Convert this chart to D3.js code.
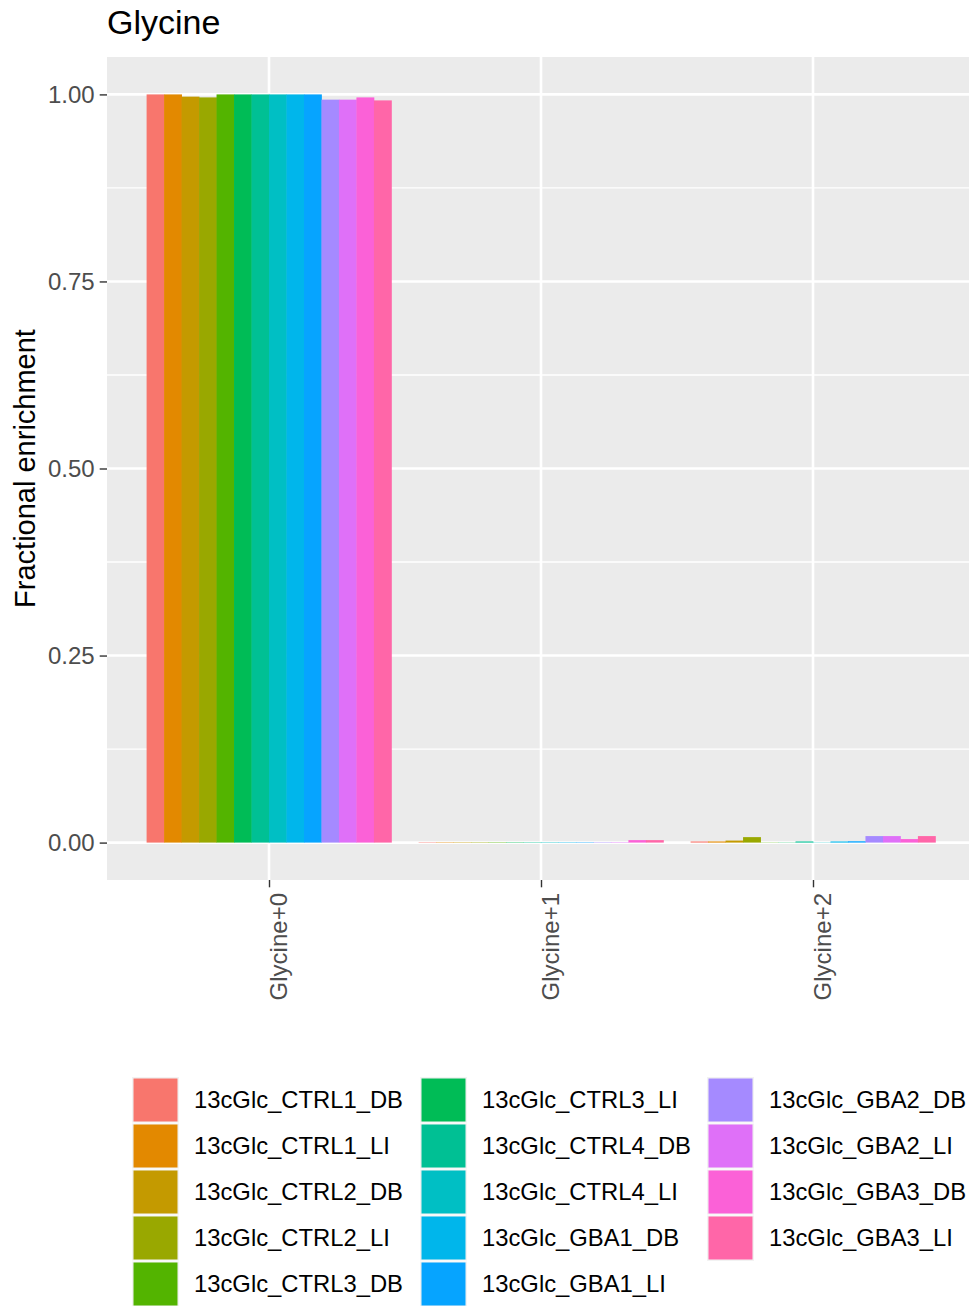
<!DOCTYPE html>
<html><head><meta charset="utf-8">
<script src="https://cdn.jsdelivr.net/npm/d3@7"></script>
<style>body{margin:0;background:#fff}svg{display:block;font-family:"Liberation Sans",Arial,sans-serif}</style>
</head><body><div id="chart"></div>
<script>
const categories = ["Glycine+0","Glycine+1","Glycine+2"];
const samples = ["13cGlc_CTRL1_DB","13cGlc_CTRL1_LI","13cGlc_CTRL2_DB","13cGlc_CTRL2_LI","13cGlc_CTRL3_DB","13cGlc_CTRL3_LI","13cGlc_CTRL4_DB","13cGlc_CTRL4_LI","13cGlc_GBA1_DB","13cGlc_GBA1_LI","13cGlc_GBA2_DB","13cGlc_GBA2_LI","13cGlc_GBA3_DB","13cGlc_GBA3_LI"];
const glycine0 = [1.000,1.000,0.997,0.996,1.000,1.000,1.000,1.000,1.000,1.000,0.993,0.993,0.996,0.992];
const glycine1 = [0.0005,0.0005,0.0005,0.0005,0.0005,0.0005,0.0005,0.0005,0.0005,0.0005,0.0005,0.0005,0.0033,0.0033];
const glycine2 = [0.0015,0.0015,0.0027,0.0073,0.0003,0.0003,0.0015,0.0003,0.0015,0.0018,0.0087,0.0087,0.0047,0.0087];
const yTicks = [0,0.25,0.5,0.75,1.0];
const yMinor = [0.125,0.375,0.625,0.875];
const seriesByCat = [glycine0, glycine1, glycine2];

(function(){
// ggplot2 hue palette (polar LUV)
function hclR(h,c,l){
  const WX=95.047,WY=100,WZ=108.883;
  const t=WX+15*WY+3*WZ, uN=4*WX/t, vN=9*WY/t;
  const hr=h*Math.PI/180, U=c*Math.cos(hr), V=c*Math.sin(hr);
  const Y=WY*(l>7.999592?Math.pow((l+16)/116,3):l/903.3);
  const u=U/(13*l)+uN, v=V/(13*l)+vN;
  const X=9*Y*u/(4*v), Z=-X/3-5*Y+3*Y/v;
  const g=x=>{x=x<=0.0031308?12.92*x:1.055*Math.pow(x,1/2.4)-0.055;return Math.round(255*Math.max(0,Math.min(1,x)));};
  const r=g((3.240479*X-1.53715*Y-0.498535*Z)/WY);
  const gg=g((-0.969256*X+1.875992*Y+0.041556*Z)/WY);
  const b=g((0.055648*X-0.204043*Y+1.057311*Z)/WY);
  return d3.rgb(r,gg,b).formatHex();
}
const n=samples.length;
const colors=d3.range(n).map(i=>hclR(15+i*360/n,100,65));

const W=969,H=1306;
const svg=d3.select("#chart").append("svg").attr("width",W).attr("height",H);
const P={l:107,r:969,t:57,b:880};
svg.append("rect").attr("x",P.l).attr("y",P.t).attr("width",P.r-P.l).attr("height",P.b-P.t).attr("fill","#EBEBEB");

const y=d3.scaleLinear().domain([-0.05,1.05]).range([P.b,P.t]);
const xc=d3.scaleLinear().domain([1,3]).range([269,813]);
const unit=xc(2)-xc(1);
const xb=d3.scaleBand().domain(samples).range([-0.45*unit,0.45*unit]).padding(0);

// grid
svg.selectAll(".ymin").data(yMinor).enter().append("line").attr("x1",P.l).attr("x2",P.r)
 .attr("y1",d=>y(d)).attr("y2",d=>y(d)).attr("stroke","#fff").attr("stroke-width",1.3);
svg.selectAll(".ymaj").data(yTicks).enter().append("line").attr("x1",P.l).attr("x2",P.r)
 .attr("y1",d=>y(d)).attr("y2",d=>y(d)).attr("stroke","#fff").attr("stroke-width",2.6);
svg.selectAll(".xmaj").data(categories).enter().append("line").attr("y1",P.t).attr("y2",P.b)
 .attr("x1",(d,i)=>xc(i+1)).attr("x2",(d,i)=>xc(i+1)).attr("stroke","#fff").attr("stroke-width",2.6);

// bars
categories.forEach((cat,ci)=>{
  const vals=seriesByCat[ci];
  svg.append("g").selectAll("rect").data(samples).enter().append("rect")
   .attr("x",(s)=>xc(ci+1)+xb(s)).attr("width",xb.bandwidth()+0.4)
   .attr("y",(s,i)=>y(vals[i])).attr("height",(s,i)=>y(0)-y(vals[i]))
   .attr("fill",(s,i)=>colors[i]);
});

// y axis
const ya=svg.append("g").attr("transform",`translate(${P.l},0)`)
 .call(d3.axisLeft(y).tickValues(yTicks).tickFormat(d3.format(".2f")).tickSize(7.3).tickPadding(5));
ya.select(".domain").remove();
ya.selectAll(".tick line").attr("stroke","#333").attr("stroke-width",1.4);
ya.selectAll(".tick text").attr("fill","#4D4D4D").style("font-size","24px");

// x axis
const xa=svg.append("g").attr("transform",`translate(0,${P.b})`)
 .call(d3.axisBottom(xc).tickValues([1,2,3]).tickFormat(d=>categories[d-1]).tickSize(7.3));
xa.select(".domain").remove();
xa.selectAll(".tick line").attr("stroke","#333").attr("stroke-width",1.4);
xa.selectAll(".tick text").attr("fill","#4D4D4D").style("font-size","24px")
 .attr("text-anchor","end").attr("y",0).attr("dy","0.35em")
 .attr("transform","translate(9,13) rotate(-90)");

// titles
svg.append("text").attr("x",107).attr("y",34).text("Glycine").style("font-size","34px").attr("fill","#000");
svg.append("text").attr("transform",`translate(35,${(P.t+P.b)/2}) rotate(-90)`).attr("text-anchor","middle")
 .text("Fractional enrichment").style("font-size","29px").attr("fill","#000");

// legend
const rowsPerCol=5, colX=[132,420,707], legTop=1077, pitch=46;
const lg=svg.append("g");
samples.forEach((s,i)=>{
  const c=Math.floor(i/rowsPerCol), r=i%rowsPerCol;
  const x0=colX[c], y0=legTop+r*pitch;
  lg.append("rect").attr("x",x0).attr("y",y0).attr("width",47).attr("height",pitch).attr("fill","#F2F2F2");
  lg.append("rect").attr("x",x0+1.5).attr("y",y0+1.5).attr("width",44).attr("height",pitch-3).attr("fill",colors[i]);
  if(r>0) lg.append("line").attr("x1",x0).attr("x2",x0+47).attr("y1",y0).attr("y2",y0).attr("stroke","#fff").attr("stroke-width",1);
  lg.append("text").attr("x",x0+62).attr("y",y0+pitch/2).attr("dy","0.35em").text(s)
   .style("font-size","23.8px").attr("fill","#000");
});
})();
</script></body></html>
